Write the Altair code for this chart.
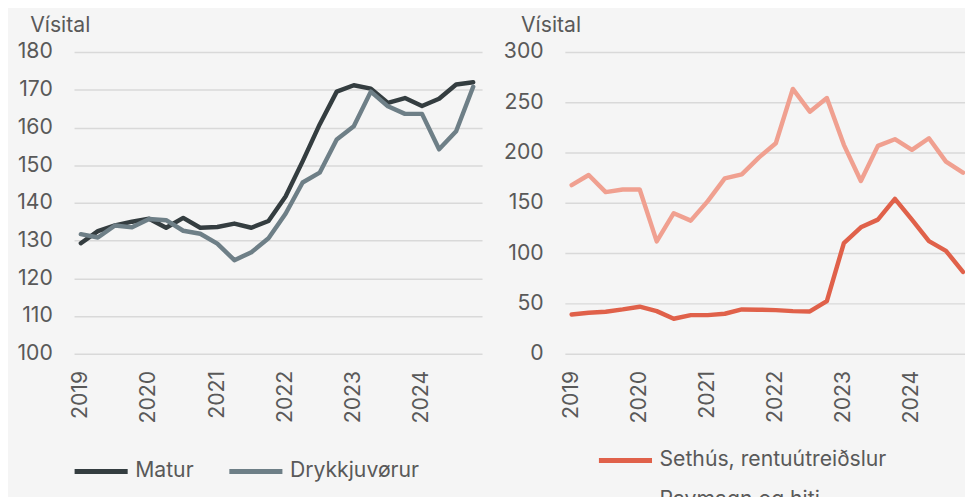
import altair as alt
import pandas as pd

years = [2019, 2020, 2021, 2022, 2023, 2024]
quarters = [1, 2, 3, 4]

matur = [129.3, 132.5, 134.0, 135.0, 135.8, 133.4, 136.0, 133.4,
         133.6, 134.5, 133.4, 135.2, 141.7, 151.0, 160.8, 169.5,
         171.2, 170.3, 166.5, 167.8, 165.7, 167.6, 171.4, 172.0]
drykkjuvorur = [131.7, 130.8, 134.0, 133.5, 135.7, 135.4, 132.6, 131.8,
                129.2, 124.8, 126.9, 130.6, 137.1, 145.4, 148.0, 156.8,
                160.3, 169.5, 165.6, 163.6, 163.6, 154.2, 159.0, 170.8]
sethus = [39.0, 40.7, 41.7, 44.0, 46.7, 42.3, 34.7, 38.3,
          38.3, 39.7, 44.0, 43.7, 43.3, 42.3, 42.0, 52.3,
          110.0, 125.7, 133.3, 154.0, 133.3, 112.0, 102.3, 81.3]
ravmagn = [167.7, 177.7, 160.7, 163.3, 163.3, 111.7, 139.7, 132.3,
           151.7, 174.3, 178.3, 195.0, 209.3, 263.3, 240.7, 254.3,
           207.7, 171.7, 206.7, 213.3, 202.7, 214.3, 191.0, 180.0]

left_names = ["Matur", "Drykkjuvørur"]
left_colors = ["#343d40", "#6e7f87"]
right_names = ["Sethús, rentuútreiðslur", "Ravmagn og hiti"]
right_colors = ["#e0614a", "#f0a090"]
left_ticks = [100, 110, 120, 130, 140, 150, 160, 170, 180]
right_ticks = [0, 50, 100, 150, 200, 250, 300]

periods = [y + (q - 1) / 4 for y in years for q in quarters]


def make_df(names, series):
    rows = []
    for k, (n, vals) in enumerate(zip(names, series)):
        for t, v in zip(periods, vals):
            rows.append({"t": t, "v": v, "s": n, "o": k})
    return pd.DataFrame(rows)


FONT = "Inter"
TXT = "#595959"
FS = 21.5


def panel(df, domain, ticks, names, colors, direction, lx, ly, xmax, w):
    return alt.Chart(df).mark_line(
        strokeWidth=4.5, strokeJoin="round", strokeCap="round", clip=True
    ).encode(
        x=alt.X("t:Q",
                scale=alt.Scale(domain=[2018.9, xmax], nice=False, zero=False),
                axis=alt.Axis(values=years, format="d", labelAngle=-90, grid=False,
                              domain=False, ticks=False, labelPadding=17, title=None)),
        y=alt.Y("v:Q",
                scale=alt.Scale(domain=domain, nice=False, zero=False),
                axis=alt.Axis(values=ticks, title="Vísital", titleAngle=0,
                              titleX=-45, titleY=-21, titleAlign="left",
                              titleBaseline="alphabetic", titleFontWeight="normal",
                              domain=False, ticks=False, labelPadding=22,
                              gridColor="#d9d9d9", gridWidth=1.5)),
        color=alt.Color("s:N", sort=names,
                        scale=alt.Scale(domain=names, range=colors),
                        legend=alt.Legend(orient="none", legendX=lx, legendY=ly,
                                          direction=direction, title=None,
                                          symbolType="stroke", symbolSize=2900,
                                          symbolStrokeWidth=5, labelOffset=5,
                                          columnPadding=25, rowPadding=-36,
                                          labelLimit=400, padding=0)),
        order=alt.Order("o:Q", sort="descending"),
    ).properties(width=w, height=306)


left = panel(make_df(left_names, [matur, drykkjuvorur]), [100, 180], left_ticks,
             left_names, left_colors, "horizontal", -2, 396, 2024.88, 414)
right = panel(make_df(right_names, [sethus, ravmagn]), [0, 300], right_ticks,
              right_names, right_colors, "vertical", 32, 385, 2024.78, 406)

chart = alt.hconcat(left, right, spacing=21).resolve_scale(
    color="independent", x="independent"
).resolve_legend(color="independent").properties(
    background="#f5f5f5",
    padding={"left": 8, "top": 3, "right": 0, "bottom": 0},
).configure_view(stroke=None).configure_axis(
    labelFont=FONT, titleFont=FONT, labelFontSize=FS, titleFontSize=FS,
    labelColor=TXT, titleColor=TXT,
).configure_legend(
    labelFont=FONT, labelFontSize=FS, labelColor=TXT,
)

chart.save("out.html", embed_options={"renderer": "svg", "actions": False})
